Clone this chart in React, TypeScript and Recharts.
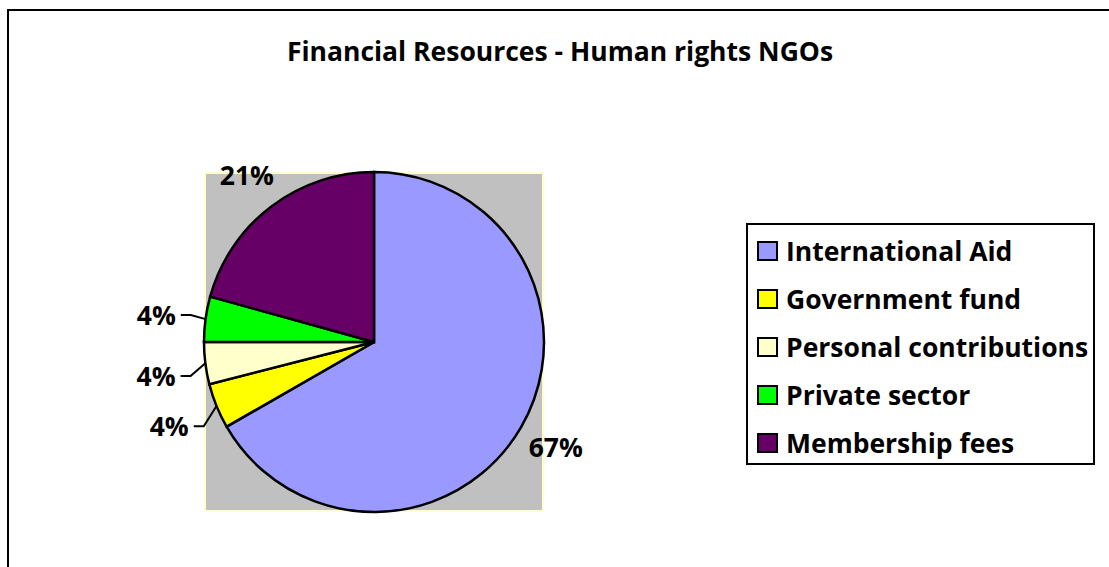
import React from "react";
import { PieChart, Pie, Cell, Legend } from "recharts";

const categories = [
  "International Aid",
  "Government fund",
  "Personal contributions",
  "Private sector",
  "Membership fees",
];
const shares = [66.7, 4.3, 4.0, 4.3, 20.7];
const colors = ["#9999FF", "#FFFF00", "#FFFFCC", "#00FF00", "#660066"];
const title = "Financial Resources - Human rights NGOs";

const data = categories.map((name, i) => ({ name, value: shares[i] }));

const FONT = "'Open Sans', 'DejaVu Sans', sans-serif";
const FS = 26.5;
const RADIAN = Math.PI / 180;

const renderLabel = (props: any) => {
  const { cx, cy, midAngle, outerRadius, percent } = props;
  const text = `${Math.round(percent * 100)}%`;
  const cos = Math.cos(-midAngle * RADIAN);
  const sin = Math.sin(-midAngle * RADIAN);
  if (percent < 0.1) {
    const px = cx + outerRadius * cos;
    const py = cy + outerRadius * sin;
    const tx = cx + (outerRadius + 30) * cos;
    const ty = cy + (outerRadius + 30) * sin + (sin > 0 ? 9 : 0);
    return (
      <g>
        <polyline
          points={`${tx + 5},${ty} ${tx + 15},${ty} ${px},${py}`}
          fill="none"
          stroke="#000"
          strokeWidth={2}
        />
        <text
          x={tx}
          y={ty}
          textAnchor="end"
          dominantBaseline="central"
          fontFamily={FONT}
          fontWeight="bold"
          fontSize={FS}
          fill="#000"
        >
          {text}
        </text>
      </g>
    );
  }
  const tx = cx + (outerRadius + 40) * cos;
  const ty = cy + (outerRadius + 40) * sin;
  return (
    <text
      x={tx}
      y={ty}
      textAnchor="middle"
      dominantBaseline="central"
      fontFamily={FONT}
      fontWeight="bold"
      fontSize={FS}
      fill="#000"
    >
      {text}
    </text>
  );
};

const renderLegend = () => {
  return (
    <div
      style={{
        boxSizing: "border-box",
        width: 349,
        height: 242,
        border: "2px solid #000",
        background: "#fff",
        paddingTop: 2,
        paddingLeft: 9,
      }}
    >
      {categories.map((name, i) => (
        <div
          key={name}
          style={{
            display: "flex",
            alignItems: "center",
            height: 48,
            fontFamily: FONT,
            fontWeight: "bold",
            fontSize: FS,
            color: "#000",
            whiteSpace: "nowrap",
          }}
        >
          <span
            style={{
              display: "inline-block",
              boxSizing: "border-box",
              width: 21,
              height: 20,
              background: colors[i],
              border: "2px solid #000",
              marginRight: 8,
              flex: "none",
            }}
          />
          {name}
        </div>
      ))}
    </div>
  );
};

export default function App() {
  return (
    <div
      style={{
        position: "absolute",
        left: 0,
        top: 0,
        width: 1109,
        height: 567,
        overflow: "hidden",
        background: "#fff",
      }}
    >
      <div
        style={{
          position: "absolute",
          left: 7,
          top: 9,
          width: 1300,
          height: 800,
          border: "2.5px solid #000",
        }}
      />
      <div
        style={{
          position: "absolute",
          left: 204,
          top: 172,
          width: 340,
          height: 340,
          boxSizing: "border-box",
          background: "#C0C0C0",
          border: "2px solid #FFFFCC",
        }}
      />
      <div
        style={{
          position: "absolute",
          left: 0,
          width: 1120,
          top: 34,
          textAlign: "center",
          fontFamily: FONT,
          fontWeight: "bold",
          fontSize: FS,
          lineHeight: "34px",
          color: "#000",
        }}
      >
        {title}
      </div>
      <div style={{ position: "absolute", left: 0, top: 0 }}>
        <PieChart width={1109} height={567} margin={{ top: 0, right: 0, bottom: 0, left: 0 }}>
          <Pie
            data={data}
            dataKey="value"
            nameKey="name"
            cx={374}
            cy={342}
            outerRadius={170}
            startAngle={90}
            endAngle={-270}
            stroke="#000"
            strokeWidth={2.5}
            label={renderLabel}
            labelLine={false}
            isAnimationActive={false}
          >
            {data.map((d, i) => (
              <Cell key={d.name} fill={colors[i]} />
            ))}
          </Pie>
          <Legend
            layout="vertical"
            align="right"
            verticalAlign="top"
            content={renderLegend}
            wrapperStyle={{ position: "absolute", left: 746, top: 223, width: 349, height: 242 }}
          />
        </PieChart>
      </div>
    </div>
  );
}
